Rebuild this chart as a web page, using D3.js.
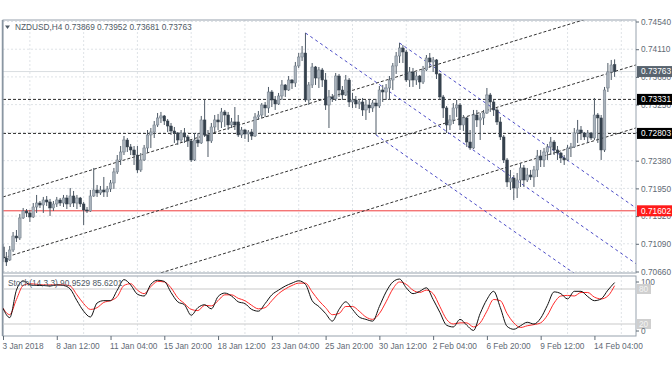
<!DOCTYPE html>
<html><head><meta charset="utf-8">
<script src="https://cdn.jsdelivr.net/npm/d3@7"></script>
<style>
body{margin:0;background:#fff}
svg{display:block}
text{font-family:"Liberation Sans",Arial,sans-serif}
</style>
</head><body>
<svg id="c" width="672" height="372"></svg>
<script>
const symbol = "NZDUSD,H4";
const opens = [
0.71041,0.70870,0.70839,0.70994,0.71211,0.71180,0.71491,0.71599,0.71568,0.71506,
0.71661,0.71723,0.71692,0.71770,0.71739,0.71646,0.71708,0.71770,0.71723,0.71801,
0.71708,0.71832,0.71723,0.71801,0.71708,0.71615,0.71599,0.71832,0.71925,0.71879,
0.71925,0.71894,0.71941,0.72034,0.72205,0.72391,0.72515,0.72701,0.72593,0.72546,
0.72468,0.72236,0.72391,0.72577,0.72779,0.72825,0.72934,0.73043,0.73074,0.72996,
0.72918,0.72841,0.72810,0.72701,0.72810,0.72748,0.72686,0.72391,0.72701,0.72655,
0.73012,0.72779,0.72686,0.72903,0.73012,0.72981,0.73136,0.73089,0.72934,0.72981,
0.72981,0.72779,0.72856,0.72794,0.72825,0.72763,0.73058,0.73089,0.73244,0.73198,
0.73446,0.73322,0.73260,0.73384,0.73555,0.73477,0.73632,0.73586,0.73850,0.73989,
0.74051,0.73322,0.73555,0.73834,0.73663,0.73788,0.73632,0.73244,0.73369,0.73338,
0.73694,0.73477,0.73400,0.73632,0.73291,0.73322,0.73260,0.73291,0.73167,0.73244,
0.73198,0.73275,0.73229,0.73477,0.73446,0.73508,0.73632,0.73850,0.74005,0.74129,
0.74067,0.73632,0.73757,0.73632,0.73694,0.73601,0.73788,0.73974,0.73912,0.73943,
0.73726,0.73369,0.73198,0.72934,0.73012,0.73198,0.73244,0.72934,0.73043,0.72670,
0.72577,0.73089,0.73012,0.73043,0.73120,0.73400,0.73291,0.73167,0.72981,0.72748,
0.72391,0.72049,0.72111,0.71956,0.72080,0.72267,0.72080,0.72158,0.72127,0.72236,
0.72453,0.72391,0.72515,0.72593,0.72670,0.72546,0.72499,0.72422,0.72391,0.72577,
0.72593,0.72810,0.72856,0.72810,0.72748,0.72810,0.72732,0.73089,0.73043,0.72546,
0.73508,0.73757,0.73869];
const highs = [
0.71087,0.70963,0.71056,0.71273,0.71304,0.71553,0.71646,0.71630,0.71615,0.71723,
0.71848,0.71754,0.71817,0.71832,0.71786,0.71754,0.71817,0.71801,0.71848,0.71848,
0.71956,0.71910,0.71848,0.71817,0.71739,0.71661,0.71925,0.72267,0.72003,0.71987,
0.72127,0.71987,0.72080,0.72267,0.72468,0.72608,0.72763,0.72732,0.72639,0.72608,
0.72608,0.72499,0.72624,0.72856,0.72887,0.72996,0.73120,0.73136,0.73089,0.73027,
0.72965,0.72903,0.72825,0.72856,0.72887,0.72779,0.72701,0.72810,0.72810,0.73074,
0.73322,0.72856,0.72965,0.73089,0.73105,0.73198,0.73167,0.73136,0.73043,0.73213,
0.73089,0.72903,0.72872,0.72856,0.72872,0.73120,0.73151,0.73275,0.73291,0.73524,
0.73477,0.73384,0.73431,0.73632,0.73570,0.73694,0.73648,0.73912,0.74051,0.74160,
0.74362,0.73601,0.73896,0.73850,0.73834,0.73819,0.73741,0.73477,0.73415,0.73741,
0.73726,0.73539,0.73710,0.73663,0.73431,0.73384,0.73338,0.73353,0.73322,0.73338,
0.73322,0.73338,0.73539,0.73555,0.73570,0.73694,0.73896,0.74067,0.74207,0.74176,
0.74098,0.73834,0.73819,0.73757,0.73710,0.73850,0.74020,0.74051,0.73989,0.73958,
0.73741,0.73400,0.73229,0.73089,0.73275,0.73322,0.73275,0.73089,0.73058,0.72856,
0.73167,0.73167,0.73120,0.73167,0.73508,0.73431,0.73322,0.73198,0.73058,0.72779,
0.72422,0.72236,0.72158,0.72189,0.72344,0.72313,0.72267,0.72236,0.72298,0.72546,
0.72546,0.72577,0.72639,0.72748,0.72701,0.72608,0.72515,0.72468,0.72624,0.72655,
0.72887,0.73012,0.72918,0.72825,0.72856,0.72825,0.73353,0.73120,0.73089,0.73524,
0.73896,0.73943,0.73952];
const lows = [
0.70808,0.70746,0.70823,0.70963,0.71118,0.71149,0.71475,0.71506,0.71429,0.71491,
0.71568,0.71646,0.71568,0.71677,0.71522,0.71599,0.71661,0.71677,0.71661,0.71630,
0.71661,0.71661,0.71630,0.71661,0.71382,0.71568,0.71584,0.71817,0.71817,0.71848,
0.71817,0.71817,0.71894,0.71941,0.72174,0.72313,0.72468,0.72515,0.72468,0.72313,
0.72189,0.72205,0.72375,0.72499,0.72577,0.72732,0.72903,0.72965,0.72934,0.72825,
0.72779,0.72655,0.72624,0.72670,0.72655,0.72593,0.72360,0.72375,0.72593,0.72639,
0.72748,0.72437,0.72655,0.72825,0.72856,0.72887,0.72903,0.72856,0.72887,0.72856,
0.72748,0.72732,0.72717,0.72670,0.72701,0.72748,0.73012,0.73043,0.73058,0.73120,
0.73213,0.73167,0.73244,0.73322,0.73369,0.73462,0.73493,0.73524,0.73819,0.73927,
0.73291,0.73244,0.73508,0.73555,0.73508,0.73524,0.73167,0.72887,0.73291,0.73306,
0.73369,0.73322,0.73384,0.73213,0.73198,0.73198,0.73182,0.73074,0.73012,0.73120,
0.73136,0.72779,0.73198,0.73291,0.73322,0.73322,0.73477,0.73726,0.73896,0.73896,
0.73601,0.73524,0.73524,0.73555,0.73493,0.73570,0.73772,0.73819,0.73757,0.73648,
0.73322,0.73043,0.72810,0.72856,0.72949,0.73058,0.72856,0.72841,0.72593,0.72546,
0.72562,0.72903,0.72701,0.72934,0.73105,0.73136,0.73074,0.72934,0.72701,0.72344,
0.71972,0.71925,0.71770,0.71801,0.71972,0.71972,0.72049,0.72080,0.71972,0.72127,
0.72282,0.72282,0.72391,0.72468,0.72468,0.72391,0.72344,0.72313,0.72375,0.72437,
0.72577,0.72655,0.72701,0.72701,0.72655,0.72701,0.72701,0.72655,0.72391,0.72515,
0.73446,0.73632,0.73681];
const closes = [
0.70870,0.70808,0.70994,0.71211,0.71180,0.71491,0.71599,0.71568,0.71506,0.71661,
0.71723,0.71692,0.71770,0.71739,0.71646,0.71708,0.71770,0.71723,0.71801,0.71708,
0.71832,0.71723,0.71801,0.71708,0.71615,0.71599,0.71832,0.71925,0.71879,0.71925,
0.71894,0.71941,0.72034,0.72205,0.72391,0.72515,0.72701,0.72593,0.72546,0.72468,
0.72236,0.72391,0.72577,0.72779,0.72825,0.72934,0.73043,0.73074,0.72996,0.72918,
0.72841,0.72810,0.72701,0.72810,0.72748,0.72686,0.72391,0.72701,0.72655,0.73012,
0.72779,0.72686,0.72903,0.73012,0.72981,0.73136,0.73089,0.72934,0.72981,0.72934,
0.72779,0.72856,0.72794,0.72825,0.72763,0.73058,0.73089,0.73244,0.73198,0.73446,
0.73322,0.73260,0.73384,0.73555,0.73477,0.73632,0.73586,0.73850,0.73989,0.74051,
0.73322,0.73555,0.73834,0.73663,0.73788,0.73632,0.73244,0.73369,0.73338,0.73694,
0.73477,0.73400,0.73632,0.73291,0.73322,0.73260,0.73291,0.73167,0.73244,0.73198,
0.73275,0.73229,0.73477,0.73446,0.73508,0.73632,0.73850,0.74005,0.74129,0.74067,
0.73632,0.73757,0.73632,0.73694,0.73601,0.73788,0.73974,0.73912,0.73943,0.73726,
0.73369,0.73198,0.72934,0.73012,0.73198,0.73244,0.72934,0.73043,0.72670,0.72577,
0.73089,0.73012,0.73043,0.73120,0.73400,0.73291,0.73167,0.72981,0.72748,0.72391,
0.72049,0.72111,0.71956,0.72080,0.72267,0.72080,0.72158,0.72127,0.72236,0.72453,
0.72391,0.72515,0.72593,0.72670,0.72546,0.72499,0.72422,0.72391,0.72577,0.72593,
0.72810,0.72856,0.72810,0.72748,0.72810,0.72732,0.73089,0.73043,0.72546,0.73477,
0.73757,0.73865,0.73763];

// Stochastic (14,3,3) read every second bar
const stochK = [
47,31,78,94,87,86,86,85,87,86,80,60,42,32,56,60,60,78,96,87,
71,68,88,95,93,74,58,53,35,48,53,46,67,73,68,58,
55,45,42,55,70,78,85,90,94,88,60,50,38,25,45,58,45,32,28,25,50,75,92,97,
82,72,76,82,62,40,
18,15,28,18,9,38,62,76,48,16,11,17,23,20,30,52,75,72,63,76,76,67,60,63,78,90.9529];
const stochD = [
47,36,62,86,89,88,87,87,87,87,85,70,55,45,48,57,60,67,86,89,
78,72,84,93,92,82,65,55,45,43,52,51,60,70,70,64,
60,52,46,48,60,72,80,86,90,90,75,60,48,36,38,50,50,42,32,28,38,58,80,92,
88,78,74,78,72,50,
28,20,22,22,15,22,42,62,60,38,22,14,17,19,22,35,56,68,69,68,74,74,66,63,68,85.6201];

const priceTicks = [0.74540,0.74110,0.73680,0.73250,0.72820,0.72380,0.71950,0.71520,0.71090,0.70660];
const xTickLabels = ["3 Jan 2018","8 Jan 12:00","11 Jan 04:00","15 Jan 20:00","18 Jan 12:00","23 Jan 04:00","25 Jan 20:00","30 Jan 12:00","2 Feb 04:00","6 Feb 20:00","9 Feb 12:00","14 Feb 04:00"];
const xTickBars = [0,16,32,48,64,80,96,112,128,144,160,176];
const gridBars = [8,24,40,56,72,88,104,120,136,152,168,184];
const resistanceLevels = [0.73331,0.72803];
const supportLevels = [0.71602];
// trend lines as [bar, price] anchor pairs
const channelLines = [[[0,0.71817],[180,0.74680]],[[0,0.70870],[180,0.73733]],[[0,0.69892],[180,0.72755]]];
const fallingLines = [[[90,0.74362],[190,0.70722]],[[111,0.72779],[190,0.69903]],[[118,0.74207],[190,0.71586]]];
const stochLevels = [80,20];
const stochAxisLabels = [100,80,20,0];

const svg = d3.select("#c");
const M = {l:3, r:636, t:20, b:273};
const S = {t:276, b:336};
const n = closes.length;
const x = d3.scaleLinear().domain([0, n-1]).range([3, 614.6]);
const y = d3.scaleLinear().domain([0.70660, 0.74540]).range([271.5, 21.5]);
const ys = d3.scaleLinear().domain([0, 100]).range([335.7, 277.3]);
const AX = "#5f6a75";

const defs = svg.append("defs");
defs.append("clipPath").attr("id","cm").append("rect").attr("x",M.l).attr("y",M.t).attr("width",M.r-M.l).attr("height",M.b-M.t);
defs.append("clipPath").attr("id","cs").append("rect").attr("x",M.l).attr("y",S.t).attr("width",M.r-M.l).attr("height",S.b-S.t);

// grid
const grid = svg.append("g").attr("stroke","#dfe3e7").attr("stroke-dasharray","2,2").attr("stroke-width",1);
gridBars.filter(b => x(b) < M.r).forEach(b => {
  grid.append("line").attr("x1",x(b)).attr("x2",x(b)).attr("y1",M.t).attr("y2",M.b);
  grid.append("line").attr("x1",x(b)).attr("x2",x(b)).attr("y1",S.t).attr("y2",S.b);
});
priceTicks.forEach(p => grid.append("line").attr("x1",M.l).attr("x2",M.r).attr("y1",y(p)).attr("y2",y(p)));

const main = svg.append("g").attr("clip-path","url(#cm)");
// bid line
main.append("line").attr("x1",M.l).attr("x2",M.r).attr("y1",y(closes[n-1])).attr("y2",y(closes[n-1])).attr("stroke","#d9dde1");
// horizontal levels
resistanceLevels.forEach(p => main.append("line").attr("x1",M.l).attr("x2",M.r).attr("y1",y(p)).attr("y2",y(p))
  .attr("stroke","#2a2a2a").attr("stroke-dasharray","3,2"));
supportLevels.forEach(p => main.append("line").attr("x1",M.l).attr("x2",M.r).attr("y1",y(p)).attr("y2",y(p))
  .attr("stroke","#f03c3c").attr("stroke-width",1));

const rightBar = x.invert(M.r);
function at(line, b){ const [a,c]=line; return a[1] + (c[1]-a[1])*(b-a[0])/(c[0]-a[0]); }
channelLines.forEach(L => main.append("line")
  .attr("x1",x(0)).attr("y1",y(at(L,0))).attr("x2",x(rightBar)).attr("y2",y(at(L,rightBar)))
  .attr("stroke","#333").attr("stroke-dasharray","3,2"));
fallingLines.forEach(L => main.append("line")
  .attr("x1",x(L[0][0])).attr("y1",y(L[0][1])).attr("x2",x(rightBar)).attr("y2",y(at(L,rightBar)))
  .attr("stroke","#4b4bc6").attr("stroke-dasharray","3,3"));

// candles
const bars = d3.range(n);
main.append("g").selectAll("line").data(bars).join("line")
  .attr("x1",i=>x(i)).attr("x2",i=>x(i)).attr("y1",i=>y(highs[i])).attr("y2",i=>y(lows[i]))
  .attr("stroke","#4e5a66").attr("stroke-width",1);
main.append("g").selectAll("rect").data(bars).join("rect")
  .attr("x",i=>x(i)-1.3).attr("width",2.6)
  .attr("y",i=>y(Math.max(opens[i],closes[i])))
  .attr("height",i=>Math.max(0.8, Math.abs(y(opens[i])-y(closes[i]))))
  .attr("fill",i=>closes[i]>=opens[i]?"#a9b2bb":"#35414d")
  .attr("stroke",i=>closes[i]>=opens[i]?"#6f7b87":"#35414d").attr("stroke-width",0.5);

// frames
svg.append("rect").attr("x",M.l).attr("y",M.t).attr("width",M.r-M.l).attr("height",M.b-M.t)
  .attr("fill","none").attr("stroke","#97a2ad");
svg.append("rect").attr("x",M.l).attr("y",S.t).attr("width",M.r-M.l).attr("height",S.b-S.t)
  .attr("fill","none").attr("stroke","#97a2ad");
svg.append("line").attr("x1",2.5).attr("x2",2.5).attr("y1",M.t).attr("y2",S.b).attr("stroke","#8a96a2").attr("stroke-width",1.5);

// right price axis
const ra = svg.append("g").attr("transform",`translate(${M.r},0)`)
  .call(d3.axisRight(y).tickValues(priceTicks).tickFormat(d=>d.toFixed(5)).tickSize(3).tickPadding(2));
ra.select(".domain").remove();
ra.selectAll("line").attr("stroke",AX);
ra.selectAll("text").attr("fill",AX).style("font-size","8.3px").style("font-family","'Liberation Sans',Arial,sans-serif");

// price tags
function tag(p, bg){
  const g = svg.append("g");
  g.append("rect").attr("x",M.r+1).attr("y",y(p)-5.5).attr("width",672-M.r-1).attr("height",11).attr("fill",bg);
  g.append("text").attr("x",M.r+5).attr("y",y(p)).attr("dy","0.35em").attr("fill","#fff")
    .style("font-size","8.3px").text(p.toFixed(5));
}
resistanceLevels.forEach(p=>tag(p,"#000"));
supportLevels.forEach(p=>tag(p,"#ff1a1a"));
tag(closes[n-1],"#58636e");

// stochastic panel
const st = svg.append("g").attr("clip-path","url(#cs)");
stochLevels.forEach(v => st.append("line").attr("x1",M.l).attr("x2",M.r).attr("y1",ys(v)).attr("y2",ys(v))
  .attr("stroke","#c9c9c9").attr("stroke-width",1.2));
const sb = d3.range(0, n, 2);
const ln = d3.line().x((d,i)=>x(sb[i])).y(d=>ys(d)).curve(d3.curveMonotoneX);
st.append("path").attr("d",ln(stochD)).attr("fill","none").attr("stroke","#ff2a2a").attr("stroke-width",1);
st.append("path").attr("d",ln(stochK)).attr("fill","none").attr("stroke","#111").attr("stroke-width",1);
svg.append("text").attr("x",8).attr("y",286).attr("fill","#4f5a65").style("font-size","8.3px")
  .text(`Stoch(14,3,3) ${stochK[stochK.length-1].toFixed(4)} ${stochD[stochD.length-1].toFixed(4)}`);
stochAxisLabels.forEach(v => {
  const yy = Math.min(Math.max(ys(v), S.t+6), S.b-5);
  if (stochLevels.includes(v)) {
    svg.append("rect").attr("x",M.r+1).attr("y",yy-5).attr("width",14).attr("height",10).attr("fill","#cfcfcf");
    svg.append("text").attr("x",M.r+3).attr("y",yy).attr("dy","0.35em").attr("fill","#f4f4f4").style("font-size","8.3px").text(v);
  } else {
    svg.append("line").attr("x1",M.r).attr("x2",M.r+3).attr("y1",yy).attr("y2",yy).attr("stroke",AX);
    svg.append("text").attr("x",M.r+5).attr("y",yy).attr("dy","0.35em").attr("fill",AX).style("font-size","8.3px").text(v);
  }
});

// bottom time axis
const ba = svg.append("g").attr("transform",`translate(0,${S.b})`)
  .call(d3.axisBottom(x).tickValues(xTickBars).tickFormat((d,i)=>xTickLabels[i]).tickSize(4).tickPadding(3));
ba.select(".domain").remove();
ba.selectAll("line").attr("stroke",AX);
ba.selectAll("text").attr("text-anchor","start").attr("dx","-1").attr("fill",AX)
  .style("font-size","8.3px").style("font-family","'Liberation Sans',Arial,sans-serif");

// title
svg.append("path").attr("d","M5,25.5 L10,25.5 L7.5,29 Z").attr("fill","#4f5a65");
svg.append("text").attr("x",15).attr("y",30).attr("fill","#4f5a65").style("font-size","8.3px")
  .text(`${symbol}  ${opens[n-1].toFixed(5)} ${highs[n-1].toFixed(5)} ${lows[n-1].toFixed(5)} ${closes[n-1].toFixed(5)}`);
</script>
</body></html>
